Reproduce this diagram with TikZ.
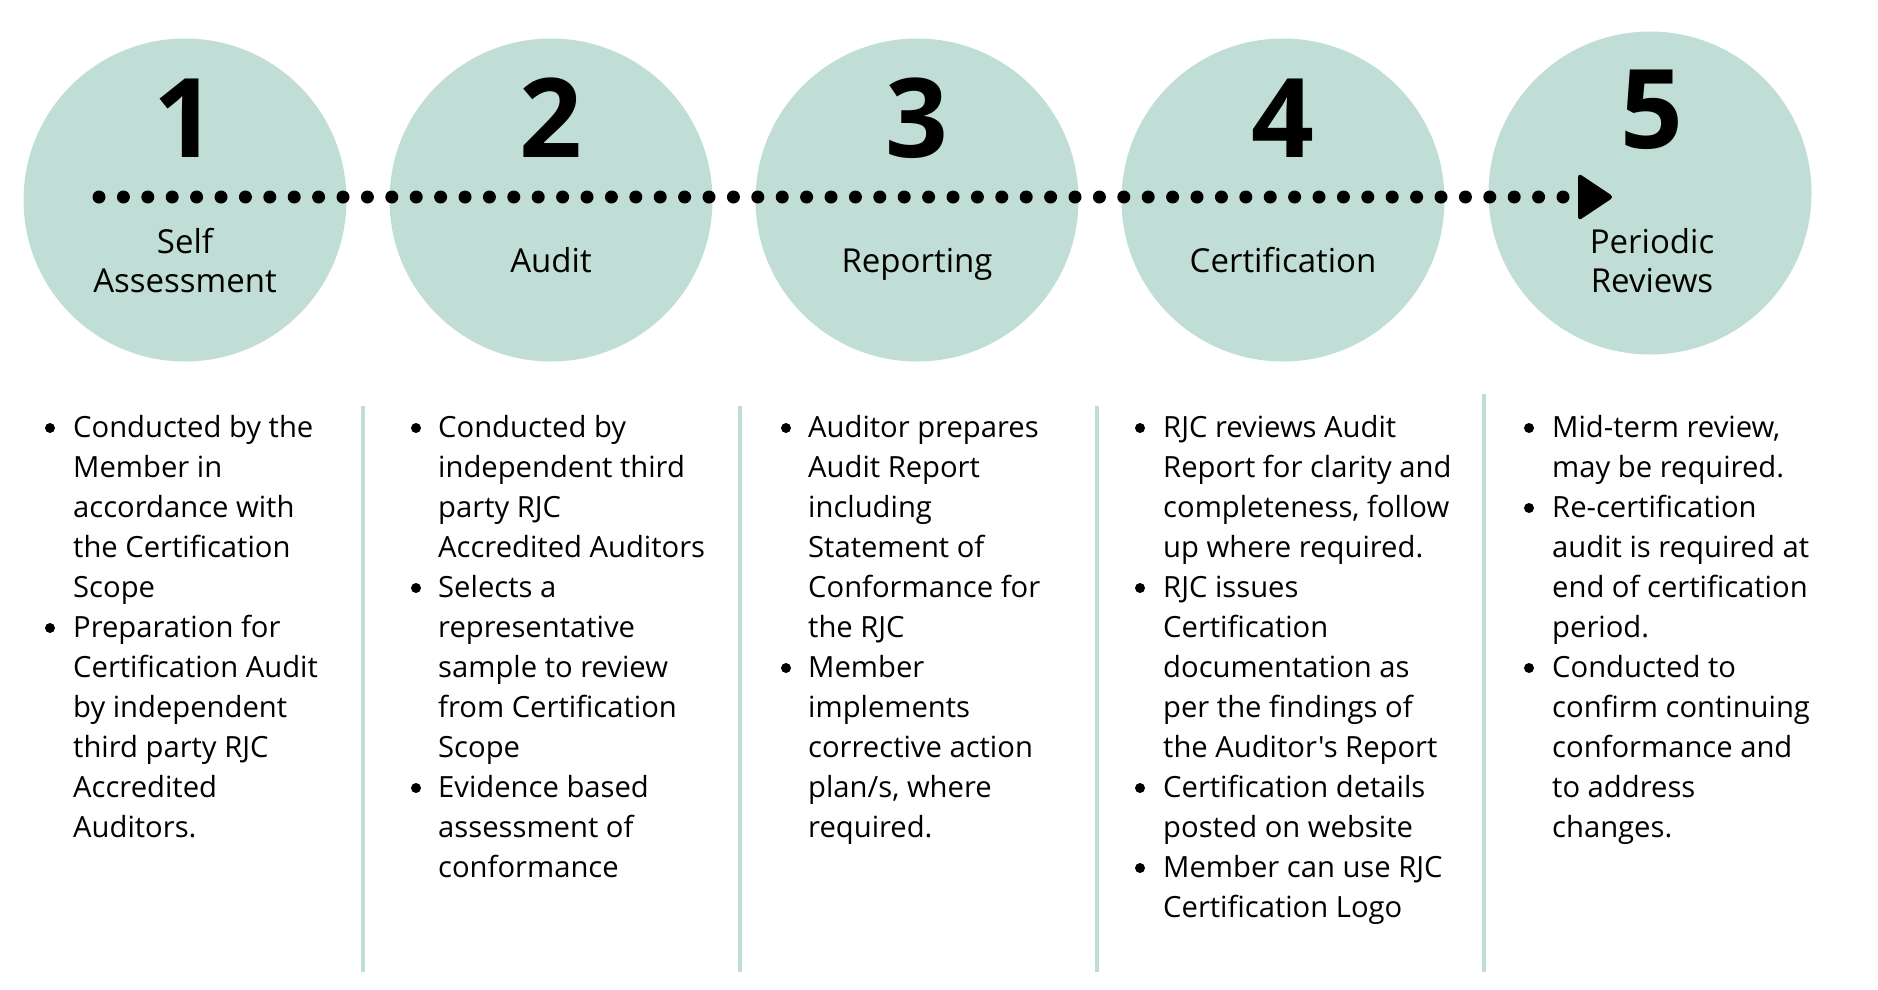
\documentclass[tikz,border=0pt]{standalone}
\usepackage{fontspec}
\newfontfamily\osans{Open Sans}
\usetikzlibrary{positioning}
\definecolor{mint}{RGB}{192,222,214}

\begin{document}
\begin{tikzpicture}[x=1pt,y=-1pt,every node/.style={inner sep=0pt,font=\osans},
  stage/.style={circle,fill=mint,minimum size=323pt},
  num/.style={anchor=base,font=\osans\bfseries\fontsize{110}{110}\selectfont},
  lbl/.style={anchor=base,align=center,font=\osans\fontsize{33}{39}\selectfont},
  items/.style={anchor=base west,align=left,font=\osans\fontsize{29.2}{40}\selectfont},
  divider/.style={draw=mint,line width=4pt}]
\useasboundingbox (0,0) rectangle (1878,989);
% circles
\node[stage] (c1) at (185,200) {};
\node[stage] (c2) at (551,200) {};
\node[stage] (c3) at (917,200) {};
\node[stage] (c4) at (1283,200) {};
\node[stage] (c5) at (1650,193) {};
% numbers
\node[num] (n1) at (185,157) {1};
\node[num] (n2) at (551,157) {2};
\node[num] (n3) at (917,157) {3};
\node[num] (n4) at (1283,157) {4};
\node[num] (n5) at (1652,148) {5};
% dotted line and arrowhead
\coordinate (dotstart) at (99,197);
\coordinate (dotend) at (1563,197);
\coordinate (tip) at (1614,197);
\draw[line width=13pt,line cap=round,dash pattern=on 0pt off 24.4pt] (dotstart) -- (dotend);
\fill[rounded corners=4pt] (1578,173) -- (tip) -- (1578,221) -- cycle;
% labels (base = last line)
\node[lbl] (l1) at (185,292) {Self\\Assessment};
\node[lbl] (l2) at (551,272) {Audit};
\node[lbl] (l3) at (917,272) {Reporting};
\node[lbl] (l4) at (1283,272) {Certification};
\node[lbl] (l5) at (1652,292) {Periodic\\Reviews};
% dividers
\draw[divider] (363,406) -- (363,972);
\draw[divider] (740,406) -- (740,972);
\draw[divider] (1097,406) -- (1097,972);
\draw[divider] (1484,394) -- (1484,972);
% bullet lists (base = last line, 40pt per line from 437)
\node[items] (t1) at (73,837) {Conducted by the\\ Member in\\ accordance with\\ the Certification\\ Scope\\ Preparation for\\ Certification Audit\\ by independent\\ third party RJC\\ Accredited\\ Auditors.};
\node[items] (t2) at (438,877) {Conducted by\\ independent third\\ party RJC\\ Accredited Auditors\\ Selects a\\ representative\\ sample to review\\ from Certification\\ Scope\\ Evidence based\\ assessment of\\ conformance};
\node[items] (t3) at (808,837) {Auditor prepares\\ Audit Report\\ including\\ Statement of\\ Conformance for\\ the RJC\\ Member\\ implements\\ corrective action\\ plan/s, where\\ required.};
\node[items] (t4) at (1163,917) {RJC reviews Audit\\ Report for clarity and\\ completeness, follow\\ up where required.\\ RJC issues\\ Certification\\ documentation as\\ per the findings of\\ the Auditor's Report\\ Certification details\\ posted on website\\ Member can use RJC\\ Certification Logo};
\node[items] (t5) at (1552,837) {Mid-term review,\\ may be required.\\ Re-certification\\ audit is required at\\ end of certification\\ period.\\ Conducted to\\ confirm continuing\\ conformance and\\ to address\\ changes.};
% bullets
\foreach \bx/\k in {50/0,50/5, 416/0,416/4,416/9, 786/0,786/6, 1140/0,1140/4,1140/9,1140/11, 1529/0,1529/2,1529/6}
  \fill (\bx,428+40*\k) circle (5pt);
\end{tikzpicture}
\end{document}
